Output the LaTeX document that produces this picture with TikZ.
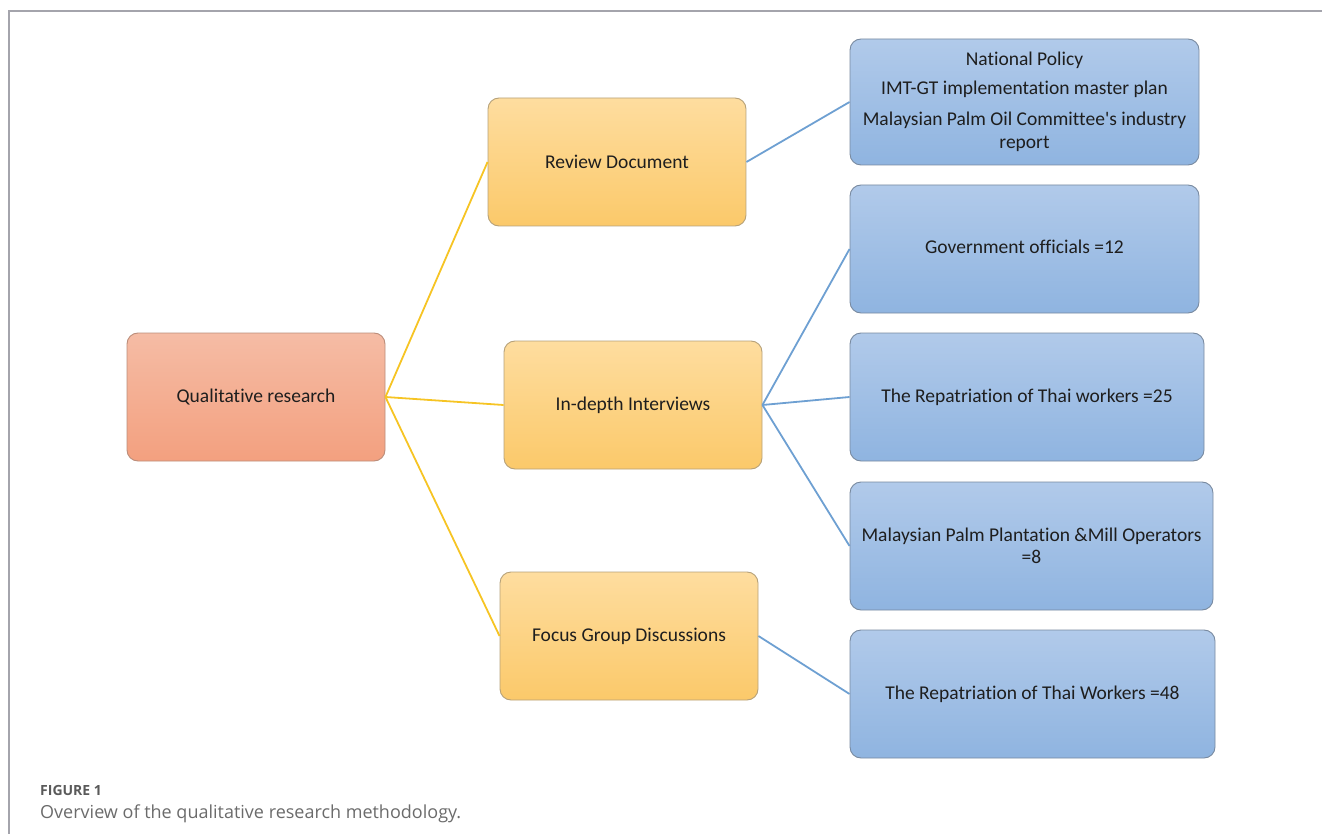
\documentclass[tikz,border=0pt]{standalone}
\usepackage{fontspec}
\setmainfont{Carlito}[Ligatures={TeX,NoCommon}]
\newfontfamily\capfont{Open Sans}
\usetikzlibrary{positioning}
\newcommand\tI{t\kern0pt i}
\definecolor{frameg}{HTML}{A4A4AC}
\definecolor{salTop}{HTML}{F5BCA5}
\definecolor{salBot}{HTML}{F3A07F}
\definecolor{orTop}{HTML}{FEDD9F}
\definecolor{orBot}{HTML}{FBC96A}
\definecolor{blTop}{HTML}{B1CAEA}
\definecolor{blBot}{HTML}{8FB4E0}
\definecolor{yline}{HTML}{F6C424}
\definecolor{bline}{HTML}{6EA0D2}
\definecolor{txt}{HTML}{1E1E1E}
\definecolor{capg}{HTML}{5A5A5A}
\tikzset{
  boxbase/.style={draw, rounded corners=11pt, line width=0.9pt, align=center,
    text=txt, font=\fontsize{19.5}{22.5}\selectfont, inner sep=4pt},
  salbox/.style={boxbase, draw=salBot!70!black!80, top color=salTop, bottom color=salBot,
    minimum width=258pt, minimum height=128pt},
  orbox/.style={boxbase, draw=orBot!60!black!70, top color=orTop, bottom color=orBot,
    minimum width=258pt, minimum height=128pt},
  blbox/.style={boxbase, draw=blBot!60!black!80, top color=blTop, bottom color=blBot,
    minimum height=128pt},
  yconn/.style={draw=yline, line width=1.8pt},
  bconn/.style={draw=bline, line width=1.8pt},
}
\begin{document}
\begin{tikzpicture}[x=1pt,y=-1pt]
\useasboundingbox (0,0) rectangle (1322,834);
% frame
\draw[frameg, line width=2pt] (9,834) -- (9,11) -- (1322,11);
% nodes
\node[salbox] (q) at (256,397) {Qualita\tI ve research};
\node[orbox] (rd) at (617,162) {Review Document};
\node[orbox] (ii) at (633,405) {In-depth Interviews};
\node[orbox] (fg) at (629,636) {Focus Group Discussions};
\node[blbox, minimum width=349pt, minimum height=126pt] (b1) at (1024.5,102)
  {National Policy\\[6pt]IMT-GT implementa\tI on master plan\\[9pt]Malaysian Palm Oil Committee\textquotesingle s industry\\report};
\node[blbox, minimum width=349pt] (b2) at (1024.5,249) {\raisebox{4pt}{Government officials =12}};
\node[blbox, minimum width=354pt] (b3) at (1027,397) {\raisebox{2pt}{The Repatria\tI on of Thai workers =25}};
\node[blbox, minimum width=363pt] (b4) at (1031.5,546) {Malaysian Palm Planta\tI on \&Mill Operators\\=8};
\node[blbox, minimum width=365pt] (b5) at (1032.5,694) {\raisebox{3pt}{The Repatria\tI on of Thai Workers =48}};
% connectors
\draw[yconn] (q.east) -- (rd.west);
\draw[yconn] (q.east) -- (ii.west);
\draw[yconn] (q.east) -- (fg.west);
\draw[bconn] (rd.east) -- (b1.west);
\draw[bconn] (ii.east) -- (b2.west);
\draw[bconn] (ii.east) -- (b3.west);
\draw[bconn] (ii.east) -- (b4.west);
\draw[bconn] (fg.east) -- (b5.west);
% caption
\node[anchor=base west, inner sep=0, text=capg, font=\capfont\fontsize{14}{16}\selectfont\bfseries] (c1) at (40,795) {FIGURE 1};
\node[anchor=base west, inner sep=0, text=capg!90, font=\capfont\fontsize{18}{20}\selectfont] (c2) at (40,818) {Overview of the qualitative research methodology.};
\end{tikzpicture}
\end{document}
